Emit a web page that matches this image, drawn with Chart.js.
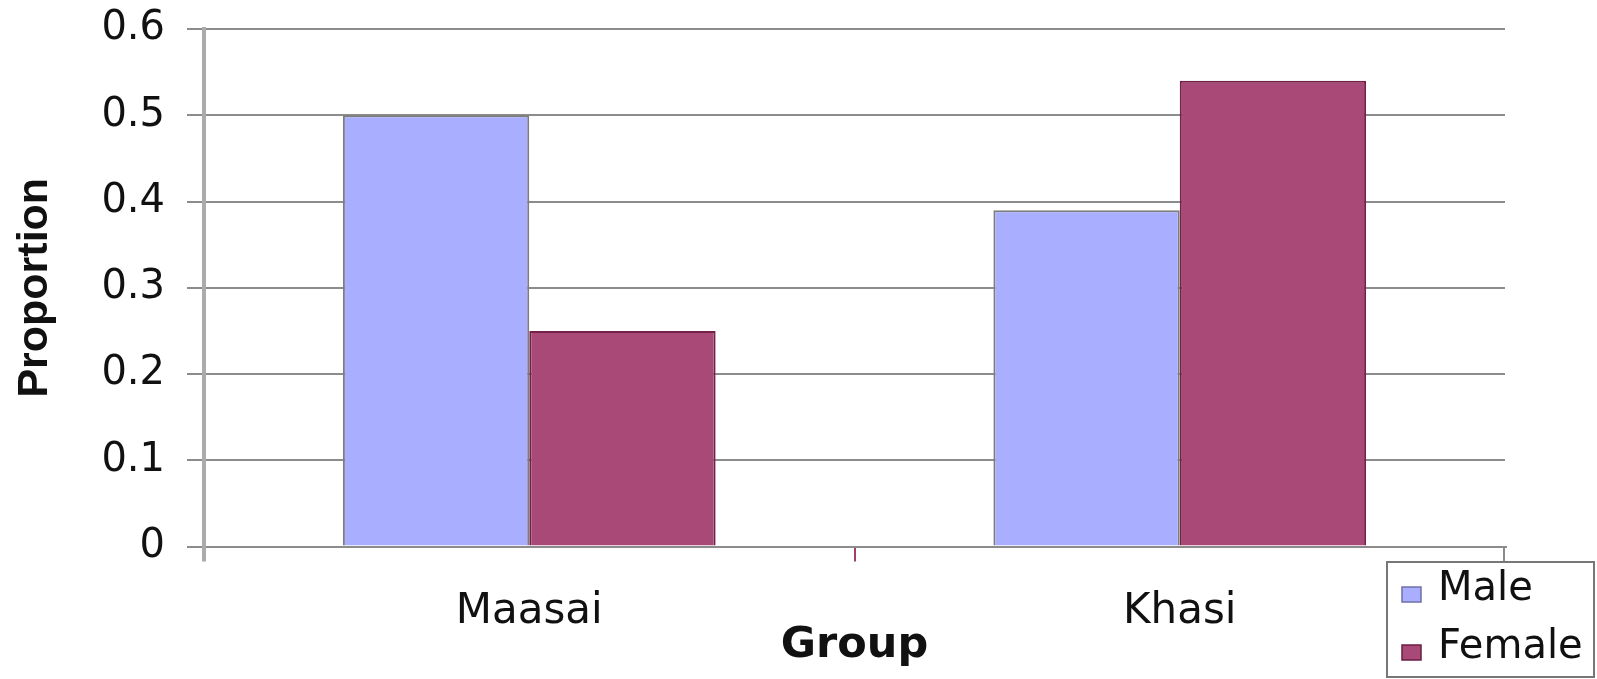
<!DOCTYPE html>
<html>
<head>
<meta charset="utf-8">
<script src="https://cdn.jsdelivr.net/npm/chart.js@4/dist/chart.umd.min.js"></script>
<style>
  html, body { margin: 0; padding: 0; background: #fff; }
  #wrap { width: 1597px; height: 679px; }
</style>
</head>
<body>
<div id="wrap"><canvas id="chart" width="1597" height="679"></canvas></div>
<script>
const groups = ["Maasai", "Khasi"];
const seriesNames = ["Male", "Female"];
const maleValues = [0.50, 0.39];
const femaleValues = [0.25, 0.54];
const yMin = 0, yMax = 0.6, yStep = 0.1;

const colors = {
  male: "#aaaeff",
  maleBorder: "#7d7d7d",
  female: "#a94977",
  femaleBorder: "#742149",
  grid: "#8c8c8c",
  axis: "#ababab"
};

// legend box sitting under the plot, bottom right, like the original
const boxLegend = {
  id: "boxLegend",
  afterDraw(chart) {
    const ctx = chart.ctx;
    const area = chart.chartArea;
    ctx.save();
    ctx.strokeStyle = "#8a8a8a";
    ctx.lineWidth = 2;
    ctx.beginPath();
    ctx.moveTo(area.right - 1, area.bottom);
    ctx.lineTo(area.right - 1, 562);
    ctx.stroke();
    ctx.strokeStyle = "#777";
    ctx.strokeRect(1387, 562, 207, 115);

    const items = [
      { text: seriesNames[0], fill: colors.male, stroke: "#6f6fa8", y: 600 },
      { text: seriesNames[1], fill: colors.female, stroke: "#6a1d44", y: 658 }
    ];
    ctx.font = "40px 'DejaVu Sans'";
    ctx.textBaseline = "alphabetic";
    items.forEach(it => {
      ctx.fillStyle = it.fill;
      ctx.fillRect(1402, it.y - 13, 19, 15);
      ctx.strokeStyle = it.stroke;
      ctx.lineWidth = 1.5;
      ctx.strokeRect(1402, it.y - 13, 19, 15);
      ctx.fillStyle = "#111";
      ctx.fillText(it.text, 1438, it.y);
    });
    ctx.restore();
  }
};

new Chart(document.getElementById("chart"), {
  type: "bar",
  data: {
    labels: groups,
    datasets: [
      {
        label: seriesNames[0],
        data: maleValues,
        backgroundColor: colors.male,
        borderColor: colors.maleBorder,
        borderWidth: 2
      },
      {
        label: seriesNames[1],
        data: femaleValues,
        backgroundColor: colors.female,
        borderColor: colors.femaleBorder,
        borderWidth: 2
      }
    ]
  },
  options: {
    responsive: false,
    animation: false,
    layout: { padding: { top: 29, right: 92, bottom: 0, left: 0 } },
    datasets: { bar: { categoryPercentage: 0.573, barPercentage: 1.0 } },
    plugins: {
      legend: { display: false },
      tooltip: { enabled: false }
    },
    scales: {
      x: {
        afterFit: s => { s.height = 132.5; },
        grid: {
          offset: true,
          drawOnChartArea: false,
          tickLength: 15,
          color: c => c.index === 0 ? colors.axis : (c.index === 1 ? "#a0406a" : "rgba(0,0,0,0)"),
          lineWidth: c => c.index === 0 ? 4 : 2
        },
        border: { color: colors.grid, width: 2 },
        ticks: {
          color: "#111",
          padding: 25,
          font: { family: "'DejaVu Sans'", size: 42 }
        },
        title: {
          display: true,
          text: "Group",
          color: "#111",
          padding: { top: 0, bottom: 7 },
          font: { family: "'DejaVu Sans'", size: 43, weight: "bold" }
        }
      },
      y: {
        min: yMin,
        max: yMax,
        afterFit: s => {
          s.width = 204;
          s.paddingTop = 0;
          s.paddingBottom = 0;
        },
        grid: {
          color: colors.grid,
          lineWidth: 2,
          tickLength: 17
        },
        border: { color: colors.axis, width: 4 },
        ticks: {
          stepSize: yStep,
          color: "#111",
          padding: 22,
          font: { family: "'DejaVu Sans'", size: 40 },
          callback: v => String(+v.toFixed(1))
        },
        title: {
          display: true,
          text: "Proportion",
          color: "#111",
          padding: { top: 9, bottom: 0 },
          font: { family: "'Liberation Sans'", size: 43, weight: "bold" }
        }
      }
    }
  },
  plugins: [boxLegend]
});
</script>
</body>
</html>
